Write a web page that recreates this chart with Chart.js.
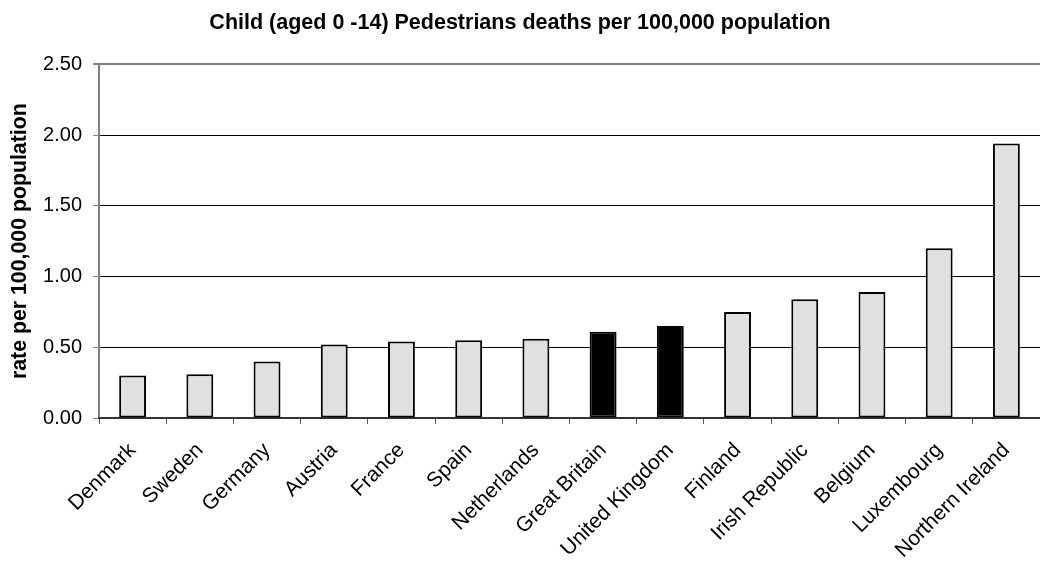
<!DOCTYPE html>
<html>
<head>
<meta charset="utf-8">
<script src="https://cdn.jsdelivr.net/npm/chart.js@4/dist/chart.umd.min.js"></script>
<style>
    body { margin: 0; background: #fff; }
    #wrap { width: 1040px; height: 562px; }
</style>
</head>
<body>
<div id="wrap"><canvas id="pedChart" width="1040" height="562"></canvas></div>
<script>
// DATA
const countries = ['Denmark', 'Sweden', 'Germany', 'Austria', 'France', 'Spain', 'Netherlands',
    'Great Britain', 'United Kingdom', 'Finland', 'Irish Republic', 'Belgium', 'Luxembourg', 'Northern Ireland'];
const rates = [0.30, 0.31, 0.40, 0.52, 0.54, 0.55, 0.56, 0.61, 0.65, 0.75, 0.84, 0.89, 1.20, 1.94];
const highlighted = ['Great Britain', 'United Kingdom'];
const yTicks = [0, 0.5, 1, 1.5, 2, 2.5];

const FONT = 'Liberation Sans, Arial, sans-serif';

const ctx = document.getElementById('pedChart');

new Chart(ctx, {
    type: 'bar',
    data: {
        labels: countries,
        datasets: [{
            data: rates,
            backgroundColor: countries.map(c => highlighted.includes(c) ? '#000000' : '#e0e0e0'),
            borderColor: '#000000',
            borderWidth: 2,
            borderSkipped: false,
            categoryPercentage: 1,
            barPercentage: 0.4
        }]
    },
    options: {
        responsive: false,
        animation: false,
        layout: { padding: { left: 0, right: 0, top: 0, bottom: 0 } },
        scales: {
            y: {
                min: 0,
                max: 2.5,
                afterBuildTicks(scale) {
                    scale.ticks = yTicks.map(v => ({ value: v }));
                },
                afterFit(scale) { scale.width = 99; },
                ticks: {
                    color: '#000',
                    padding: 11,
                    font: { family: FONT, size: 20 },
                    callback: v => Number(v).toFixed(2)
                },
                grid: {
                    color: c => c.tick && c.tick.value === 2.5 ? '#808080' : '#000000',
                    lineWidth: c => c.tick && c.tick.value === 2.5 ? 2 : 1,
                    tickColor: '#808080',
                    tickLength: 6
                },
                border: { color: '#808080', width: 2 },
                title: {
                    display: true,
                    text: 'rate per 100,000 population',
                    color: '#000',
                    font: { family: FONT, size: 21.3, weight: 'bold' },
                    padding: { top: 7, bottom: 0 }
                }
            },
            x: {
                afterFit(scale) { scale.height = 144; },
                ticks: {
                    color: '#000',
                    minRotation: 45,
                    maxRotation: 45,
                    autoSkip: false,
                    padding: 14,
                    font: { family: FONT, size: 21 }
                },
                grid: {
                    drawOnChartArea: false,
                    color: '#555',
                    tickLength: 6
                },
                border: { color: '#333', width: 2 }
            }
        },
        plugins: {
            legend: { display: false },
            tooltip: { enabled: false },
            title: {
                display: true,
                text: 'Child (aged 0 -14) Pedestrians deaths per 100,000 population',
                color: '#000',
                font: { family: FONT, size: 21.5, weight: 'bold' },
                padding: { top: 10, bottom: 28.5 }
            }
        }
    }
});
</script>
</body>
</html>
